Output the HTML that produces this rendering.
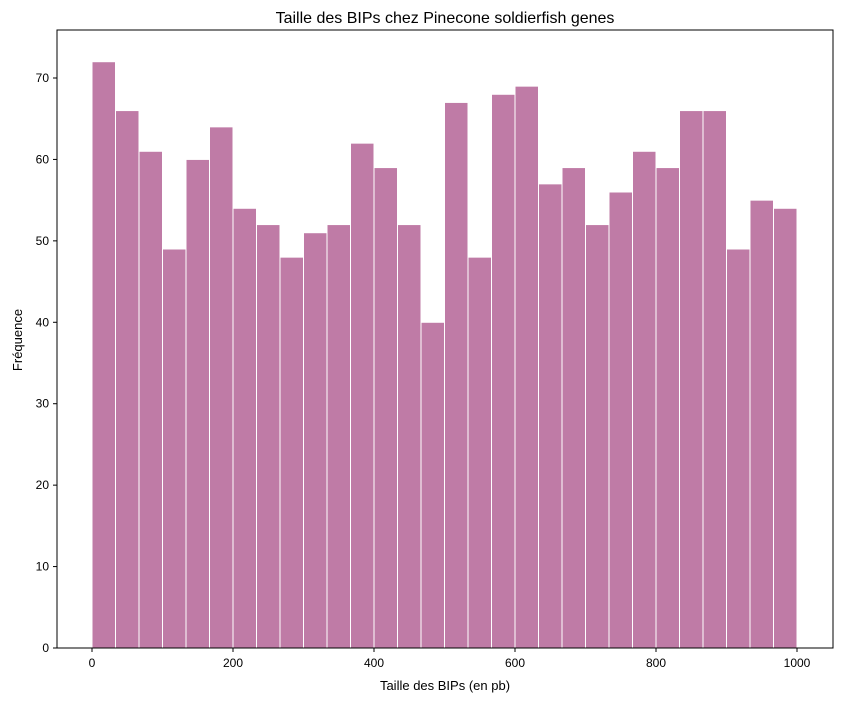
<!DOCTYPE html>
<html><head><meta charset="utf-8"><style>
body{margin:0;background:#fff;}
svg{display:block;font-family:"Liberation Sans","DejaVu Sans",sans-serif;}
</style></head><body>
<svg id="chart" width="842" height="701">
<text x="445" y="23" font-size="16" text-anchor="middle">Taille des BIPs chez Pinecone soldierfish genes</text>
<text x="445" y="690" font-size="13" text-anchor="middle">Taille des BIPs (en pb)</text>
<text x="22" y="340" font-size="13" text-anchor="middle" transform="rotate(-90 22 340)">Fréquence</text>
<g id="bars"></g>
<g id="axes"></g>
<rect x="57" y="30" width="776" height="618" fill="none" stroke="#000" stroke-width="1"/>
</svg>
<script>
const counts=[72,66,61,49,60,64,54,52,48,51,52,62,59,52,40,67,48,68,69,57,59,52,56,61,59,66,66,49,55,54];
const binStart=0, binEnd=1000;
const xTicks=[0,200,400,600,800,1000];
const yTicks=[0,10,20,30,40,50,60,70];
const NS="http://www.w3.org/2000/svg";
const xs=v=>92+(v-binStart)*(797-92)/(binEnd-binStart);
const ys=v=>648-v*(570/70);
const bars=document.getElementById('bars'),axes=document.getElementById('axes');
const w=(binEnd-binStart)/counts.length;
counts.forEach((c,i)=>{
 const r=document.createElementNS(NS,'rect');
 const x0=xs(binStart+i*w),x1=xs(binStart+(i+1)*w);
 r.setAttribute('x',x0);r.setAttribute('width',x1-x0);
 r.setAttribute('y',ys(c));r.setAttribute('height',ys(0)-ys(c));
 r.setAttribute('fill','#bf7ba6');r.setAttribute('stroke','#fff');r.setAttribute('stroke-width','1');
 
 
 bars.appendChild(r);
});
xTicks.forEach(t=>{
 const x=xs(t);
 const l=document.createElementNS(NS,'line');
 l.setAttribute('x1',x);l.setAttribute('x2',x);l.setAttribute('y1',648);l.setAttribute('y2',652);l.setAttribute('stroke','#000');
 
 
 axes.appendChild(l);
 const tx=document.createElementNS(NS,'text');
 tx.setAttribute('x',x);tx.setAttribute('y',667);tx.setAttribute('font-size','12');tx.setAttribute('text-anchor','middle');
 tx.textContent=t;
 
 
 axes.appendChild(tx);
});
yTicks.forEach(t=>{
 const y=ys(t);
 const l=document.createElementNS(NS,'line');
 l.setAttribute('x1',53);l.setAttribute('x2',57);l.setAttribute('y1',y);l.setAttribute('y2',y);l.setAttribute('stroke','#000');
 
 
 axes.appendChild(l);
 const tx=document.createElementNS(NS,'text');
 tx.setAttribute('x',49);tx.setAttribute('y',y+4);tx.setAttribute('font-size','12');tx.setAttribute('text-anchor','end');
 tx.textContent=t;
 
 
 axes.appendChild(tx);
});
</script>
</body></html>
